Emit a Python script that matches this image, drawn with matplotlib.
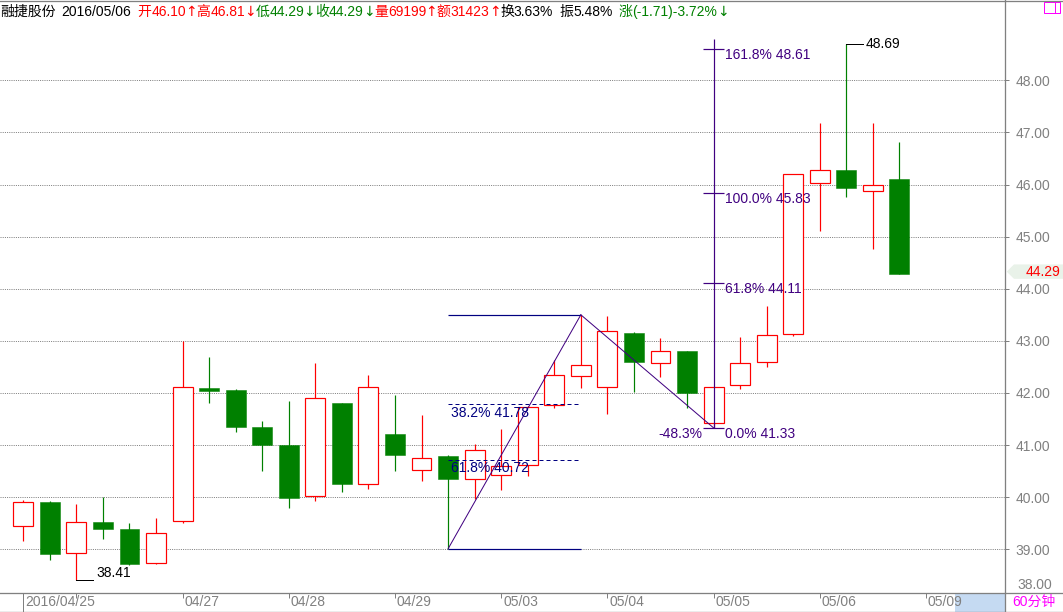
import matplotlib
matplotlib.use("Agg")
import matplotlib.pyplot as plt
import matplotlib.transforms as mtransforms
from matplotlib.patches import Rectangle, Polygon
from matplotlib.lines import Line2D
import numpy as np

plt.rcParams['font.family'] = ['Liberation Sans', 'DejaVu Sans']

# ---------------- data ----------------
opens = [39.45, 39.91, 38.92, 39.52, 39.39, 38.73, 39.54, 42.09, 42.06, 41.35,
         41.00, 40.03, 41.81, 40.26, 41.21, 40.52, 40.79, 40.34, 40.42, 40.61,
         41.76, 42.32, 42.11, 43.15, 42.57, 42.80, 41.42, 42.16, 42.59, 43.14,
         46.02, 46.27, 45.87, 46.10]
closes = [39.90, 38.91, 39.52, 39.39, 38.72, 39.32, 42.11, 42.04, 41.35, 41.00,
          39.99, 41.90, 40.25, 42.11, 40.81, 40.76, 40.35, 40.90, 40.60, 41.73,
          42.34, 42.53, 43.18, 42.60, 42.80, 42.00, 42.11, 42.57, 43.11, 46.20,
          46.27, 45.94, 46.00, 44.29]
highs = [39.94, 39.93, 39.87, 40.00, 39.50, 39.60, 43.00, 42.69, 42.07, 41.47,
         41.85, 42.57, 41.81, 42.34, 41.96, 41.58, 40.81, 41.03, 41.31, 41.75,
         42.63, 43.50, 43.48, 43.17, 43.05, 42.80, 42.11, 43.08, 43.67, 46.20,
         47.18, 48.69, 47.18, 46.81]
lows = [39.16, 38.80, 38.41, 39.20, 38.69, 38.71, 39.51, 41.81, 41.26, 40.51,
        39.80, 39.93, 40.10, 40.16, 40.51, 40.31, 39.01, 39.97, 40.14, 40.41,
        41.72, 42.10, 41.60, 42.02, 42.31, 41.72, 41.33, 42.08, 42.50, 43.10,
        45.11, 45.77, 44.77, 44.29]

tick_idx = [2, 6, 10, 14, 18, 22, 26, 30, 34]
date_label_idx = [0, 6, 10, 14, 18, 22, 26, 30, 34]
date_labels = ["2016/04/25", "04/27", "04/28", "04/29", "05/03",
               "05/04", "05/05", "05/06", "05/09"]
price_ticks = [39, 40, 41, 42, 43, 44, 45, 46, 47, 48]
bottom_price_label = "38.00"
period_label = "60分钟"

fib_start_idx, fib_start_price = 16, 39.01
fib_peak_idx, fib_peak_price = 21, 43.50
fib_end_idx, fib_end_price = 26, 41.33
retr_pcts = ["38.2%", "61.8%"]
retr_vals = [41.78, 40.72]
ext_pcts = ["0.0%", "61.8%", "100.0%", "161.8%"]
ext_vals = [41.33, 44.11, 45.83, 48.61]
ext_line_top = 48.79
pullback_label = "-48.3%"

RED = '#ff0000'
GREEN = '#008000'
BLACK = '#000000'
GRAY = '#808080'
NAVY = '#000080'
PURPLE = '#400080'

header_segments = [
    ("融捷股份 2016/05/06 ", BLACK),
    ("开46.10↑高46.81↓", RED),
    ("低44.29↓收44.29↓", GREEN),
    ("量69199↑额31423↑", RED),
    ("换3.63% 振5.48% ", BLACK),
    ("涨(-1.71)-3.72%↓", GREEN),
]

# ---------------- layout ----------------
W, H = 1063, 612
PX = 0.72  # points per pixel at 100 dpi
fig = plt.figure(figsize=(W / 100, H / 100), dpi=100)
fig.patch.set_facecolor('white')

AXR = 1005.5   # right edge of plot (px)
AXB = 592.5    # bottom edge of plot (px from top)
ax = fig.add_axes([0, (H - AXB) / H, AXR / W, AXB / H])
ax.set_xlim(-0.8776, 36.995)
ax.set_ylim(38.171, 49.541)
ax.set_facecolor('white')
ax.set_axisbelow(True)

for s in ['left', 'top', 'bottom']:
    ax.spines[s].set_visible(False)
ax.spines['right'].set_color(GRAY)
ax.spines['right'].set_linewidth(1.3 * PX)

ax.set_xticks([])
ax.yaxis.tick_right()
ax.set_yticks(price_ticks)
ax.set_yticklabels([f"{v:.2f}" for v in price_ticks])
ax.tick_params(axis='y', right=True, left=False, labelright=True, labelleft=False,
               length=4 * PX, width=1 * PX, color=GRAY, labelcolor=GRAY,
               labelsize=10, pad=6 * PX)
ax.grid(axis='y', color=GRAY, linestyle=(0, (1, 1.2)), linewidth=1 * PX)

# ---------------- candles ----------------
bw = 0.75
for i, (o, c, h, l) in enumerate(zip(opens, closes, highs, lows)):
    if c >= o:
        top, bot = c, o
        ax.add_patch(Rectangle((i - bw / 2, bot), bw, max(top - bot, 0.01),
                               facecolor='white', edgecolor=RED,
                               linewidth=1.2 * PX, zorder=3))
        if h > top:
            ax.plot([i, i], [top, h], color=RED, lw=1.2 * PX, zorder=2,
                    solid_capstyle='butt')
        if l < bot:
            ax.plot([i, i], [l, bot], color=RED, lw=1.2 * PX, zorder=2,
                    solid_capstyle='butt')
    else:
        ax.plot([i, i], [l, h], color=GREEN, lw=1.2 * PX, zorder=2,
                solid_capstyle='butt')
        ax.add_patch(Rectangle((i - bw / 2, c), bw, o - c, facecolor=GREEN,
                               edgecolor=GREEN, linewidth=0.5 * PX, zorder=3))

# extreme annotations
imax = int(np.argmax(highs))
imin = int(np.argmin(lows))
ax.plot([imax, imax + 0.625], [highs[imax], highs[imax]], color=BLACK,
        lw=1 * PX, zorder=4)
ax.annotate(f"{highs[imax]:.2f}", xy=(imax, highs[imax]), xytext=(19.5, 0),
            textcoords='offset pixels', va='center', ha='left', color=BLACK,
            fontsize=10, zorder=6)
ax.plot([imin, imin + 0.625], [lows[imin], lows[imin]], color=BLACK,
        lw=1 * PX, zorder=4)
ax.annotate(f"{lows[imin]:.2f}", xy=(imin, lows[imin]), xytext=(20, 7.5),
            textcoords='offset pixels', va='center', ha='left', color=BLACK,
            fontsize=10, zorder=6, annotation_clip=False)

# ---------------- fibonacci ----------------
ax.hlines([fib_peak_price, fib_start_price], fib_start_idx, fib_peak_idx,
          color=NAVY, lw=1.2 * PX, zorder=4)
ax.hlines(retr_vals, fib_start_idx, fib_peak_idx, color=NAVY, lw=1 * PX,
          linestyles=[(0, (4, 3))], zorder=4)
ax.plot([fib_start_idx, fib_peak_idx], [fib_start_price, fib_peak_price],
        color=PURPLE, lw=1 * PX, zorder=5)
ax.plot([fib_peak_idx, fib_end_idx], [fib_peak_price, fib_end_price],
        color=PURPLE, lw=1 * PX, zorder=5)
for pct, val in zip(retr_pcts, retr_vals):
    ax.annotate(f"{pct} {val:.2f}", xy=(fib_start_idx, val), xytext=(2.5, -8.5),
                textcoords='offset pixels', va='center', ha='left', color=NAVY,
                fontsize=10, zorder=6)

ax.vlines(fib_end_idx, fib_end_price, ext_line_top, color=PURPLE,
          lw=1.2 * PX, zorder=5)
ax.hlines(ext_vals, fib_end_idx - 0.40, fib_end_idx + 0.38, color=PURPLE,
          lw=1.2 * PX, zorder=5)
for pct, val in zip(ext_pcts, ext_vals):
    ax.annotate(f"{pct} {val:.2f}", xy=(fib_end_idx, val), xytext=(11, -6),
                textcoords='offset pixels', va='center', ha='left', color=PURPLE,
                fontsize=10, zorder=6)
ax.annotate(pullback_label, xy=(fib_end_idx, fib_end_price), xytext=(-11.5, -6),
            textcoords='offset pixels', va='center', ha='right', color=PURPLE,
            fontsize=10, zorder=6)

# bottom price label (38.00) sits just above the date strip
ax.annotate(bottom_price_label, xy=(1, 0), xycoords='axes fraction',
            xytext=(11.5, 7.5), textcoords='offset pixels', va='center',
            ha='left', color=GRAY, fontsize=10, annotation_clip=False)

# current price marker
blend = mtransforms.blended_transform_factory(ax.transAxes, ax.transData)
ax_, ay_ = blend.transform((1.0, closes[-1]))
ay_ += 2
verts = np.array([[1.2, 0], [8.5, 7.2], [57.5, 7.2], [57.5, -7.2], [8.5, -7.2]])
verts = verts + np.array([ax_, ay_])
fig.add_artist(Polygon(verts, closed=True, facecolor='#e9f2e9', edgecolor='none',
                       transform=mtransforms.IdentityTransform(), zorder=5))
fig.text((ax_ + 55) / W, ay_ / H, f"{closes[-1]:.2f}", color=RED, fontsize=10,
         ha='right', va='center', zorder=6)

# ---------------- date strip ----------------
ax2 = fig.add_axes([0, 0.5 / H, AXR / W, 19.0 / H])
ax2.set_xlim(ax.get_xlim())
ax2.set_ylim(0, 1)
ax2.set_xticks([])
ax2.set_yticks([])
for s in ['left', 'top', 'bottom']:
    ax2.spines[s].set_visible(False)
ax2.spines['right'].set_color(GRAY)
ax2.spines['right'].set_linewidth(1.3 * PX)
ax2.add_patch(Rectangle((955 / AXR, 0), 1 - 955 / AXR, 1, transform=ax2.transAxes,
                        facecolor='#c5daf2', edgecolor='none', zorder=0.5))
ax2.vlines(date_label_idx[0], 0, 1, color=GRAY, lw=1 * PX)
ax2.vlines(tick_idx, 1 - 5.5 / 19, 1, color=GRAY, lw=1 * PX)
for i, lbl in zip(date_label_idx, date_labels):
    ax2.annotate(lbl, xy=(i, 0.5), xycoords=('data', 'axes fraction'),
                 xytext=(2, -0.5), textcoords='offset pixels', va='center',
                 ha='left', color=GRAY, fontsize=10, zorder=3)

# frame lines across full width
for ypx in [0.5, AXB, H - 0.5]:
    fig.add_artist(Line2D([0, 1], [(H - ypx) / H] * 2, color=GRAY,
                          lw=1.3 * PX, transform=fig.transFigure))

fig.text(1012 / W, (H - 602) / H, period_label, color='#ff00ff', fontsize=10,
         ha='left', va='center', family=['Liberation Sans', 'Noto Sans CJK SC'])

# magenta box at top right
fig.add_artist(Rectangle((1044 / W, (H - 13) / H), 16 / W, 11 / H, fill=False,
                         edgecolor='#ff00ff', lw=1 * PX, transform=fig.transFigure))
fig.add_artist(Line2D([1055 / W] * 2, [(H - 13) / H, (H - 2) / H], color='#ff00ff',
                      lw=1 * PX, transform=fig.transFigure))

# ---------------- header ----------------
renderer = fig.canvas.get_renderer()
xpx = 0.0
base = (H - 16) / H
SPACE_W = 6.0
ARROW_PAD = -0.5


def kind(ch):
    if ch == ' ':
        return 'space'
    if ch in '↑↓':
        return 'arrow'
    if ord(ch) >= 0x2E80:
        return 'cjk'
    return 'latin'


for text, color in header_segments:
    runs = []
    for ch in text:
        k = kind(ch)
        if runs and runs[-1][0] == k and k in ('cjk', 'latin'):
            runs[-1][1] += ch
        else:
            runs.append([k, ch])
    for k, run in runs:
        if k == 'space':
            xpx += SPACE_W
            continue
        if k == 'cjk':
            fam = ['Noto Sans CJK SC']
        elif k == 'arrow':
            fam = ['DejaVu Sans']
        else:
            fam = ['Liberation Sans', 'DejaVu Sans']
        if k == 'arrow':
            xpx += ARROW_PAD
        t = fig.text(xpx / W, base, run, color=color, fontsize=10,
                     family=fam, ha='left', va='baseline', zorder=7)
        xpx += t.get_window_extent(renderer).width
        if k == 'arrow':
            xpx += ARROW_PAD

fig.savefig('out.png', dpi=100, facecolor='white')
